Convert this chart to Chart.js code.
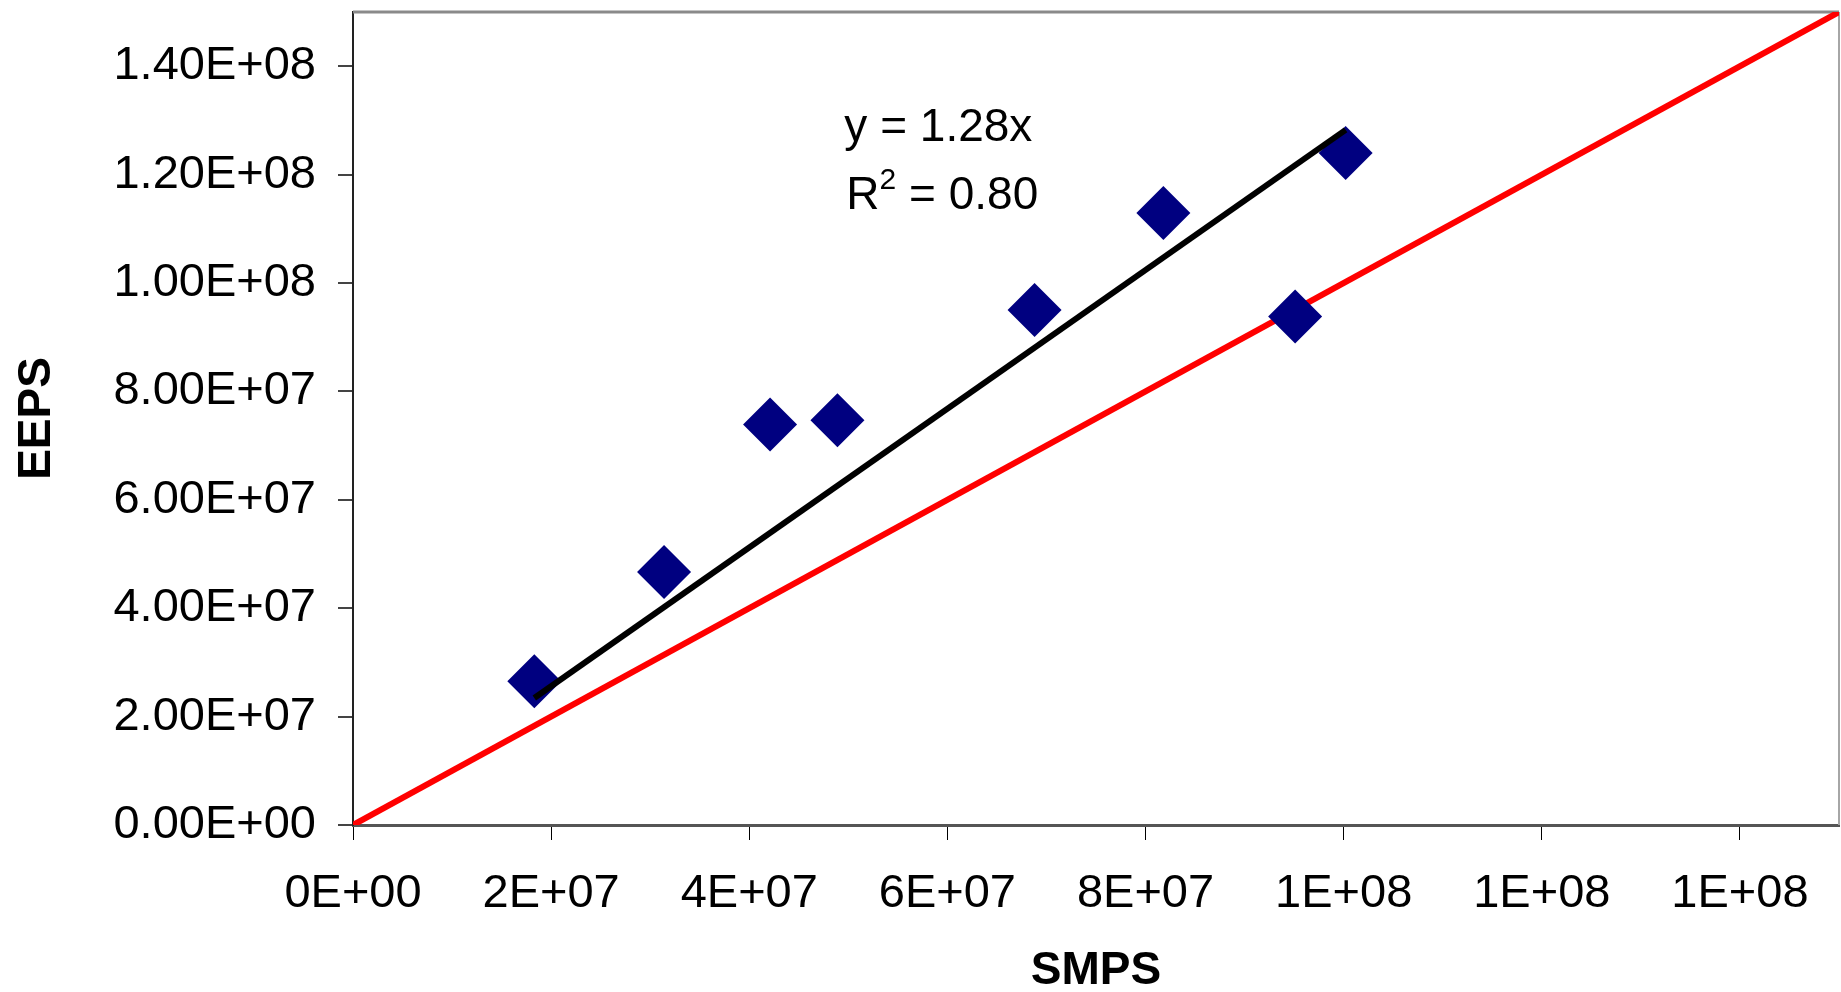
<!DOCTYPE html>
<html>
<head>
<meta charset="utf-8">
<script src="https://cdn.jsdelivr.net/npm/chart.js@4.4.0/dist/chart.umd.min.js"></script>
<style>
  html, body { margin: 0; padding: 0; background: #fff; }
  canvas { display: block; }
</style>
</head>
<body>
<canvas id="chart" width="1841" height="992"></canvas>
<script>
// SMPS vs EEPS number concentrations
const smpsValues = [1.83e7, 3.14e7, 4.21e7, 4.89e7, 6.88e7, 8.18e7, 9.51e7, 1.002e8];
const eepsValues = [2.65e7, 4.67e7, 7.39e7, 7.47e7, 9.50e7, 1.129e8, 9.38e7, 1.240e8];

// linear fit through the origin
const fitSlope = 1.28;
const fitR2 = '0.80';

// 1:1 reference line
const oneToOneX = [0, 1.5e8];
const oneToOneY = [0, 1.5e8];

const xTicks = [0, 2e7, 4e7, 6e7, 8e7, 1e8, 1.2e8, 1.4e8];
const xTickLabels = ['0E+00', '2E+07', '4E+07', '6E+07', '8E+07', '1E+08', '1E+08', '1E+08'];
const yTicks = [0, 2e7, 4e7, 6e7, 8e7, 1e8, 1.2e8, 1.4e8];
const yTickLabels = ['0.00E+00', '2.00E+07', '4.00E+07', '6.00E+07', '8.00E+07', '1.00E+08', '1.20E+08', '1.40E+08'];

const fitX = [Math.min(...smpsValues), Math.max(...smpsValues)];
const fitY = fitX.map(x => x * fitSlope);

Chart.defaults.font.family = "'Liberation Sans', Arial, sans-serif";
Chart.defaults.color = '#000';

// gray frame on the top and right of the plot area
const plotFrame = {
    id: 'plotFrame',
    beforeDatasetsDraw(chart) {
        const a = chart.chartArea;
        const ctx = chart.ctx;
        ctx.save();
        ctx.strokeStyle = '#8a8a8a';
        ctx.lineWidth = 3;
        ctx.beginPath();
        ctx.moveTo(a.left, a.top);
        ctx.lineTo(a.right, a.top);
        ctx.stroke();
        ctx.strokeStyle = '#a6a6a6';
        ctx.lineWidth = 2;
        ctx.beginPath();
        ctx.moveTo(a.right, a.top);
        ctx.lineTo(a.right, a.bottom);
        ctx.stroke();
        ctx.restore();
    }
};

// equation and R² of the fit
const fitLabel = {
    id: 'fitLabel',
    afterDatasetsDraw(chart) {
        const ctx = chart.ctx;
        const x = chart.scales.x.getPixelForValue(4.96e7);
        const y1 = chart.scales.y.getPixelForValue(1.262e8);
        const y2 = y1 + 68;
        ctx.save();
        ctx.fillStyle = '#000';
        ctx.textBaseline = 'alphabetic';
        ctx.textAlign = 'left';
        ctx.font = "46px 'Liberation Sans', Arial, sans-serif";
        ctx.fillText('y = ' + fitSlope.toFixed(2) + 'x', x, y1);
        ctx.fillText('R', x + 2, y2);
        const rw = ctx.measureText('R').width;
        ctx.font = "30px 'Liberation Sans', Arial, sans-serif";
        ctx.fillText('2', x + 2 + rw, y2 - 20);
        const sw = ctx.measureText('2').width;
        ctx.font = "46px 'Liberation Sans', Arial, sans-serif";
        ctx.fillText(' = ' + fitR2, x + 2 + rw + sw, y2);
        ctx.restore();
    }
};

// keep the plot box fixed: no extra room for overhanging tick labels
function noLabelPadding(s) {
    s.paddingTop = 0;
    s.paddingBottom = 0;
    s.paddingLeft = 0;
    s.paddingRight = 0;
}

new Chart(document.getElementById('chart'), {
    type: 'scatter',
    data: {
        datasets: [
            {
                label: 'fit',
                data: fitX.map((x, i) => ({ x: x, y: fitY[i] })),
                showLine: true,
                borderColor: '#000',
                borderWidth: 6,
                pointRadius: 0,
                order: 0
            },
            {
                label: 'EEPS vs SMPS',
                data: smpsValues.map((x, i) => ({ x: x, y: eepsValues[i] })),
                pointStyle: 'rectRot',
                pointRadius: 27,
                pointBackgroundColor: '#000080',
                pointBorderColor: '#000080',
                pointBorderWidth: 0,
                order: 1
            },
            {
                label: '1:1',
                data: oneToOneX.map((x, i) => ({ x: x, y: oneToOneY[i] })),
                showLine: true,
                borderColor: '#ff0000',
                borderWidth: 6,
                pointRadius: 0,
                order: 2
            }
        ]
    },
    options: {
        responsive: false,
        animation: false,
        layout: { autoPadding: false, padding: { top: 12, right: 2, left: 0, bottom: 0 } },
        plugins: {
            legend: { display: false },
            tooltip: { enabled: false }
        },
        scales: {
            x: {
                type: 'linear',
                min: 0,
                max: 1.5e8,
                afterBuildTicks: s => { s.ticks = xTicks.map(v => ({ value: v })); },
                afterFit: s => { s.height = 167; noLabelPadding(s); },
                grid: { drawOnChartArea: false, drawTicks: true, tickLength: 15, color: '#000', lineWidth: 1 },
                border: { display: true, color: '#555', width: 3 },
                ticks: {
                    font: { size: 47 },
                    padding: 26,
                    maxRotation: 0,
                    autoSkip: false,
                    callback: (v, i) => xTickLabels[i]
                },
                title: {
                    display: true,
                    text: 'SMPS',
                    font: { size: 46, weight: 'bold', lineHeight: 0.88 },
                    padding: { top: 0, bottom: 0 }
                }
            },
            y: {
                type: 'linear',
                min: 0,
                max: 1.5e8,
                afterBuildTicks: s => { s.ticks = yTicks.map(v => ({ value: v })); },
                afterFit: s => { s.width = 353; noLabelPadding(s); },
                grid: { drawOnChartArea: false, drawTicks: true, tickLength: 15, color: '#444', lineWidth: 2 },
                border: { display: true, color: '#222', width: 2 },
                ticks: {
                    font: { size: 47 },
                    padding: 22,
                    autoSkip: false,
                    callback: (v, i) => yTickLabels[i]
                },
                title: {
                    display: true,
                    text: 'EEPS',
                    font: { size: 46, weight: 'bold', lineHeight: 1 },
                    padding: { top: 14, bottom: 0 }
                }
            }
        }
    },
    plugins: [plotFrame, fitLabel]
});
</script>
</body>
</html>
